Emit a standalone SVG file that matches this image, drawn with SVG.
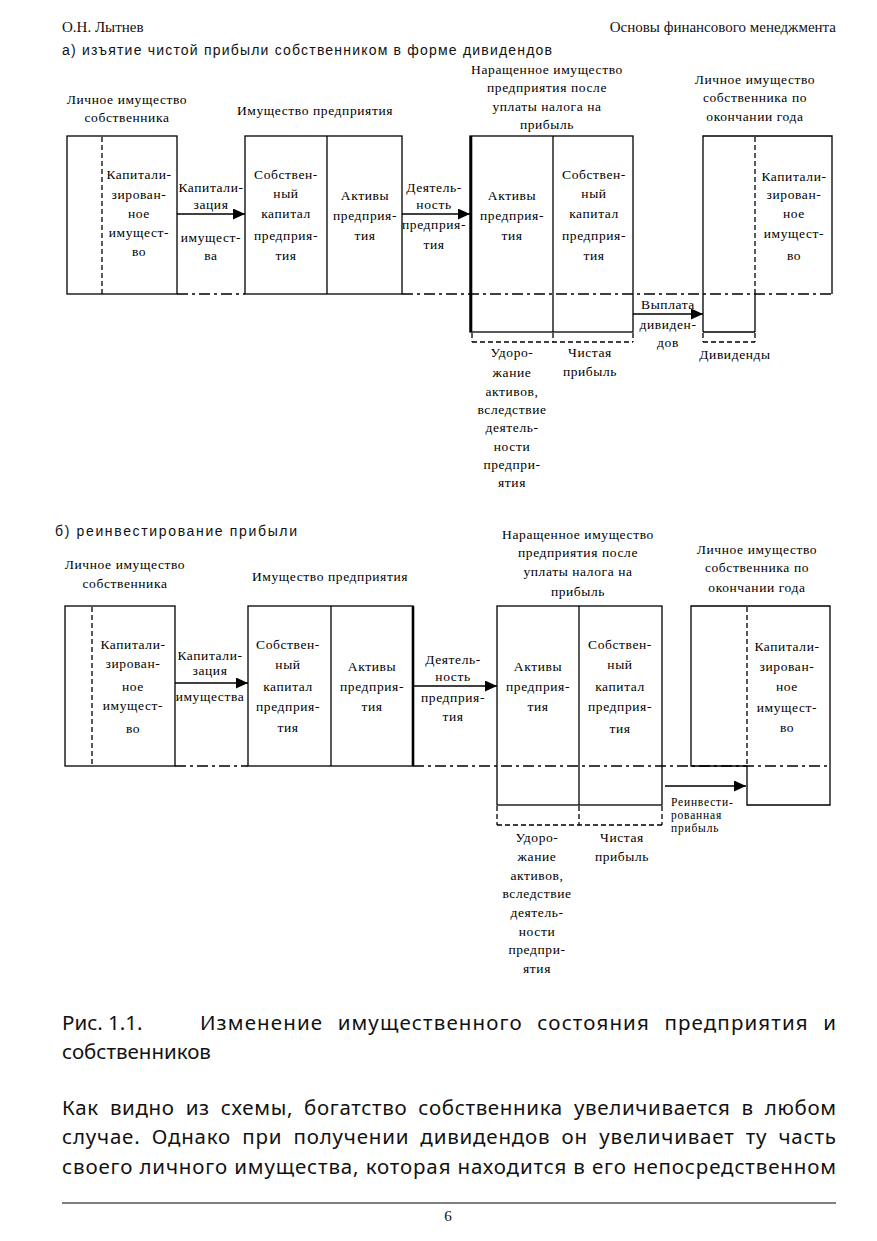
<svg xmlns="http://www.w3.org/2000/svg" width="877" height="1241" viewBox="0 0 877 1241">
<style>
.bg{fill:#fff}
.ln{fill:none;stroke:#000;stroke-width:1.3}
.thick{fill:none;stroke:#000;stroke-width:2.6}
.dash{fill:none;stroke:#000;stroke-width:1.3;stroke-dasharray:5 3}
.dd{fill:none;stroke:#000;stroke-width:1.3;stroke-dasharray:11 4 3 4}
.arr{fill:none;stroke:#000;stroke-width:1.3;marker-end:url(#ah)}
.t{font-family:"Liberation Serif",serif;font-size:13.5px;letter-spacing:0.6px;text-anchor:middle;fill:#000}
.ts{font-family:"Liberation Serif",serif;font-size:11.5px;letter-spacing:0.8px;fill:#000}
.h{font-family:"Liberation Sans",Arial,sans-serif;font-size:14px;fill:#111}
.pg{font-family:"Liberation Serif",serif;font-size:15px;fill:#111}
.body{font-family:"Noto Sans",sans-serif;font-size:20.5px;fill:#111}
</style>
<defs>
<marker id="ah" markerUnits="userSpaceOnUse" markerWidth="13" markerHeight="11" refX="12" refY="5.5" orient="auto">
<path d="M0,0 L12,5.5 L0,11 z" fill="#000"/>
</marker>
</defs>
<rect class="bg" x="0" y="0" width="877" height="1241"/>

<g id="page-header">
<text class="pg" x="62" y="32">О.Н. Лытнев</text>
<text class="pg" x="836" y="32" text-anchor="end">Основы финансового менеджмента</text>
</g>

<!-- ===== Section a ===== -->
<g id="a-title">
<text class="h" x="62" y="55" textLength="490" lengthAdjust="spacing">а) изъятие чистой прибыли собственником в форме дивидендов</text>
</g>
<g id="a-headings">
<text class="t" x="127" y="104">Личное имущество</text>
<text class="t" x="127" y="122">собственника</text>
<text class="t" x="315" y="115">Имущество предприятия</text>
<text class="t" x="547" y="74">Наращенное имущество</text>
<text class="t" x="547" y="92">предприятия после</text>
<text class="t" x="547" y="111">уплаты налога на</text>
<text class="t" x="547" y="129">прибыль</text>
<text class="t" x="755" y="84">Личное имущество</text>
<text class="t" x="755" y="102">собственника по</text>
<text class="t" x="755" y="121">окончании года</text>
</g>

<g id="a-owner-start">
<rect class="ln" x="67" y="136" width="110" height="158"/>
<line class="dash" x1="102" y1="137" x2="102" y2="294"/>
<text class="t" x="139" y="179">Капитали-</text>
<text class="t" x="139" y="199">зирован-</text>
<text class="t" x="139" y="218">ное</text>
<text class="t" x="139" y="237">имущест-</text>
<text class="t" x="139" y="256">во</text>
</g>

<g id="a-enterprise">
<rect class="ln" x="245" y="136" width="157" height="158"/>
<line class="ln" x1="327" y1="136" x2="327" y2="294"/>
<text class="t" x="286" y="179">Собствен-</text>
<text class="t" x="286" y="198">ный</text>
<text class="t" x="286" y="218">капитал</text>
<text class="t" x="286" y="240">предприя-</text>
<text class="t" x="286" y="260">тия</text>
<text class="t" x="365" y="200">Активы</text>
<text class="t" x="365" y="220">предприя-</text>
<text class="t" x="365" y="240">тия</text>
</g>

<g id="a-accrued">
<rect class="ln" x="470" y="136" width="163" height="196"/>
<line class="thick" x1="471" y1="136" x2="471" y2="332"/>
<line class="ln" x1="553" y1="136" x2="553" y2="332"/>
<text class="t" x="512" y="200">Активы</text>
<text class="t" x="512" y="220">предприя-</text>
<text class="t" x="512" y="240">тия</text>
<text class="t" x="594" y="179">Собствен-</text>
<text class="t" x="594" y="198">ный</text>
<text class="t" x="594" y="218">капитал</text>
<text class="t" x="594" y="240">предприя-</text>
<text class="t" x="594" y="260">тия</text>
<path class="dash" d="M472,342 H633 M472,333 V342 M553,333 V342 M633,333 V342"/>
<text class="t" x="512" y="357">Удоро-</text>
<text class="t" x="512" y="377">жание</text>
<text class="t" x="512" y="396">активов,</text>
<text class="t" x="512" y="414">вследствие</text>
<text class="t" x="512" y="432">деятель-</text>
<text class="t" x="512" y="451">ности</text>
<text class="t" x="512" y="469">предпри-</text>
<text class="t" x="512" y="487">ятия</text>
<text class="t" x="590" y="357">Чистая</text>
<text class="t" x="590" y="376">прибыль</text>
</g>

<g id="a-owner-end">
<path class="ln" d="M703,332 V136 H832 V294 M755,294 V332 M703,332 H755"/>
<line class="dash" x1="755" y1="137" x2="755" y2="294"/>
<path class="dash" d="M703,342 H755 M703,333 V342 M755,333 V342"/>
<text class="t" x="794" y="181">Капитали-</text>
<text class="t" x="794" y="199">зирован-</text>
<text class="t" x="794" y="218">ное</text>
<text class="t" x="794" y="238">имущест-</text>
<text class="t" x="794" y="260">во</text>
<text class="t" x="735" y="359">Дивиденды</text>
</g>

<g id="a-connectors">
<path class="dd" d="M177,294 H245 M402,294 H832"/>
<line class="arr" x1="177" y1="214" x2="245" y2="214"/>
<line class="arr" x1="402" y1="214" x2="470" y2="214"/>
<line class="arr" x1="633" y1="314" x2="703" y2="314"/>
<text class="t" x="211" y="192">Капитали-</text>
<text class="t" x="211" y="209">зация</text>
<text class="t" x="211" y="242">имущест-</text>
<text class="t" x="211" y="260">ва</text>
<text class="t" x="434" y="192">Деятель-</text>
<text class="t" x="434" y="209">ность</text>
<text class="t" x="434" y="229">предприя-</text>
<text class="t" x="434" y="249">тия</text>
<text class="t" x="668" y="309">Выплата</text>
<text class="t" x="668" y="329">дивиден-</text>
<text class="t" x="668" y="347">дов</text>
</g>

<!-- ===== Section b ===== -->
<g id="b-title">
<text class="h" x="55" y="536" textLength="242" lengthAdjust="spacing">б) реинвестирование прибыли</text>
</g>
<g id="b-headings">
<text class="t" x="125" y="569">Личное имущество</text>
<text class="t" x="125" y="588">собственника</text>
<text class="t" x="330" y="581">Имущество предприятия</text>
<text class="t" x="578" y="539">Наращенное имущество</text>
<text class="t" x="578" y="557">предприятия после</text>
<text class="t" x="578" y="576">уплаты налога на</text>
<text class="t" x="578" y="596">прибыль</text>
<text class="t" x="757" y="554">Личное имущество</text>
<text class="t" x="757" y="572">собственника по</text>
<text class="t" x="757" y="592">окончании года</text>
</g>

<g id="b-owner-start">
<rect class="ln" x="65" y="606" width="110" height="160"/>
<line class="dash" x1="92" y1="607" x2="92" y2="766"/>
<text class="t" x="133" y="649">Капитали-</text>
<text class="t" x="133" y="668">зирован-</text>
<text class="t" x="133" y="691">ное</text>
<text class="t" x="133" y="710">имущест-</text>
<text class="t" x="133" y="733">во</text>
</g>

<g id="b-enterprise">
<rect class="ln" x="248" y="606" width="165" height="160"/>
<line class="ln" x1="331" y1="606" x2="331" y2="766"/>
<line class="thick" x1="413" y1="606" x2="413" y2="766"/>
<text class="t" x="288" y="649">Собствен-</text>
<text class="t" x="288" y="669">ный</text>
<text class="t" x="288" y="691">капитал</text>
<text class="t" x="288" y="711">предприя-</text>
<text class="t" x="288" y="732">тия</text>
<text class="t" x="372" y="671">Активы</text>
<text class="t" x="372" y="691">предприя-</text>
<text class="t" x="372" y="711">тия</text>
</g>

<g id="b-accrued">
<rect class="ln" x="497" y="606" width="165" height="199"/>
<line class="ln" x1="579" y1="606" x2="579" y2="805"/>
<text class="t" x="538" y="671">Активы</text>
<text class="t" x="538" y="691">предприя-</text>
<text class="t" x="538" y="711">тия</text>
<text class="t" x="620" y="649">Собствен-</text>
<text class="t" x="620" y="669">ный</text>
<text class="t" x="620" y="691">капитал</text>
<text class="t" x="620" y="711">предприя-</text>
<text class="t" x="620" y="733">тия</text>
<path class="dash" d="M497,825 H662 M497,806 V825 M579,806 V825 M662,806 V825"/>
<text class="t" x="537" y="842">Удоро-</text>
<text class="t" x="537" y="861">жание</text>
<text class="t" x="537" y="880">активов,</text>
<text class="t" x="537" y="898">вследствие</text>
<text class="t" x="537" y="917">деятель-</text>
<text class="t" x="537" y="936">ности</text>
<text class="t" x="537" y="954">предпри-</text>
<text class="t" x="537" y="973">ятия</text>
<text class="t" x="622" y="842">Чистая</text>
<text class="t" x="622" y="861">прибыль</text>
</g>

<g id="b-owner-end">
<path class="ln" d="M747,766 H691 V606 H830 V805 H747 V766"/>
<line class="dash" x1="747" y1="607" x2="747" y2="766"/>
<text class="t" x="787" y="651">Капитали-</text>
<text class="t" x="787" y="671">зирован-</text>
<text class="t" x="787" y="691">ное</text>
<text class="t" x="787" y="712">имущест-</text>
<text class="t" x="787" y="732">во</text>
</g>

<g id="b-connectors">
<path class="dd" d="M175,766 H248 M413,766 H830"/>
<line class="arr" x1="175" y1="683" x2="248" y2="683"/>
<line class="arr" x1="413" y1="686" x2="497" y2="686"/>
<line class="arr" x1="665" y1="786" x2="746" y2="786"/>
<text class="t" x="210" y="660">Капитали-</text>
<text class="t" x="210" y="675">зация</text>
<text class="t" x="210" y="701">имущества</text>
<text class="t" x="453" y="664">Деятель-</text>
<text class="t" x="453" y="681">ность</text>
<text class="t" x="453" y="702">предприя-</text>
<text class="t" x="453" y="721">тия</text>
<text class="ts" x="671" y="806">Реинвести-</text>
<text class="ts" x="671" y="819">рованная</text>
<text class="ts" x="671" y="832">прибыль</text>
</g>

<!-- ===== Caption and body ===== -->
<g id="caption">
<text class="body" x="62" y="1030">Рис. 1.1.</text>
<text class="body" x="200" y="1030" textLength="636" lengthAdjust="spacing" word-spacing="8">Изменение имущественного состояния предприятия и</text>
<text class="body" x="62" y="1059">собственников</text>
</g>
<g id="body-text">
<text class="body" x="62" y="1115" textLength="774" lengthAdjust="spacing" word-spacing="5">Как видно из схемы, богатство собственника увеличивается в любом</text>
<text class="body" x="62" y="1144" textLength="774" lengthAdjust="spacing" word-spacing="5">случае. Однако при получении дивидендов он увеличивает ту часть</text>
<text class="body" x="62" y="1174" textLength="774" lengthAdjust="spacing" word-spacing="0">своего личного имущества, которая находится в его непосредственном</text>
</g>
<g id="page-footer">
<line class="ln" x1="62" y1="1203" x2="836" y2="1203" style="stroke-width:1"/>
<text class="pg" x="448" y="1221" text-anchor="middle">6</text>
</g>
</svg>
